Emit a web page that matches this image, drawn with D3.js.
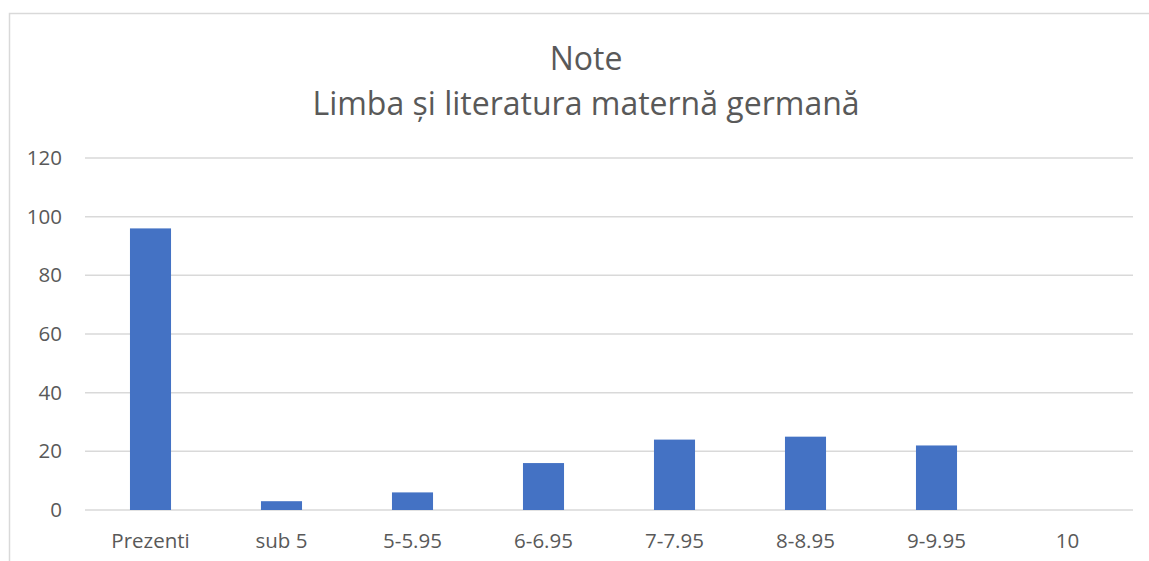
<!DOCTYPE html>
<html>
<head>
<meta charset="utf-8">
<script src="https://cdn.jsdelivr.net/npm/d3@7"></script>
<style>
  html, body { margin: 0; padding: 0; background: #fff; }
  svg { display: block; }
</style>
</head>
<body>
<div id="chart"></div>
<script>
const categories = ['Prezenti', 'sub 5', '5-5.95', '6-6.95', '7-7.95', '8-8.95', '9-9.95', '10'];
const values = [96, 3, 6, 16, 24, 25, 22, 0];
const yTicks = [0, 20, 40, 60, 80, 100, 120];
const titleLines = ['Note', 'Limba și literatura maternă germană'];

const W = 1149, H = 561;
const margin = {top: 158, right: 16, bottom: 51, left: 85};
const width = W - margin.left - margin.right;
const height = H - margin.top - margin.bottom;
const font = '"Open Sans", "Liberation Sans", sans-serif';

const svg = d3.select('#chart').append('svg')
    .attr('width', W)
    .attr('height', H);

// chart area border (runs off the right and bottom edge)
svg.append('rect')
    .attr('x', 9.5)
    .attr('y', 13.5)
    .attr('width', W)
    .attr('height', H)
    .attr('fill', 'none')
    .attr('stroke', '#d9d9d9')
    .attr('stroke-width', 1.5);

svg.selectAll('.title')
    .data(titleLines)
    .enter()
    .append('text')
        .attr('class', 'title')
        .attr('x', 586)
        .attr('y', (d, i) => 70 + i * 45)
        .attr('text-anchor', 'middle')
        .attr('font-family', font)
        .attr('font-size', 32)
        .attr('fill', '#595959')
        .text(d => d);

const x = d3.scaleBand()
    .domain(categories)
    .range([0, width]);

const y = d3.scaleLinear()
    .domain([0, 120])
    .range([height, 0]);

const g = svg.append('g')
    .attr('transform', `translate(${margin.left}, ${margin.top})`);

// gridlines
g.append('g').selectAll('line')
    .data(yTicks)
    .enter()
    .append('line')
        .attr('x1', 0)
        .attr('x2', width)
        .attr('y1', d => y(d))
        .attr('y2', d => y(d))
        .style('stroke', '#d9d9d9')
        .style('stroke-width', 1.5);

const yAxis = g.append('g')
    .call(d3.axisLeft(y).tickValues(yTicks).tickSize(0).tickPadding(23));
yAxis.select('.domain').remove();
yAxis.selectAll('text')
    .attr('font-family', font)
    .attr('font-size', 20.5)
    .attr('fill', '#595959');

const xAxis = g.append('g')
    .attr('transform', `translate(0, ${height})`)
    .call(d3.axisBottom(x).tickSize(0).tickPadding(23));
xAxis.select('.domain').remove();
xAxis.selectAll('text')
    .attr('font-family', font)
    .attr('font-size', 20.5)
    .attr('fill', '#595959');

const barW = x.bandwidth() / 3.19;
g.append('g').selectAll('rect')
    .data(values)
    .enter()
    .append('rect')
        .attr('x', (d, i) => x(categories[i]) + (x.bandwidth() - barW) / 2)
        .attr('y', d => y(d))
        .attr('width', barW)
        .attr('height', d => height - y(d))
        .attr('fill', '#4472c4');
</script>
</body>
</html>
